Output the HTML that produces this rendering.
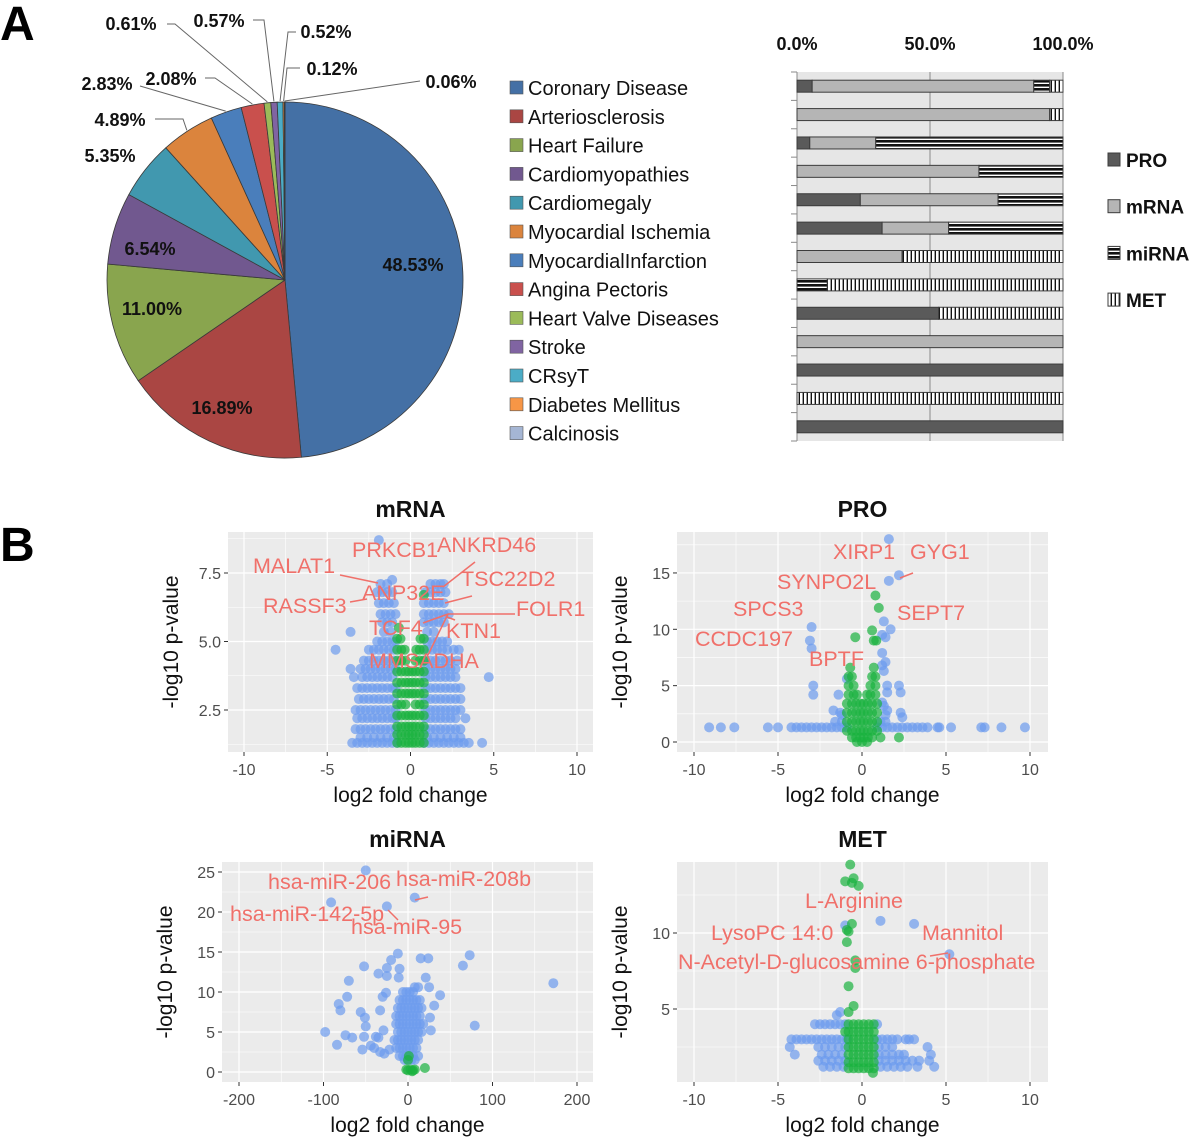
<!DOCTYPE html>
<html><head><meta charset="utf-8"><style>
body{margin:0;background:#fff;}
svg{display:block;font-family:"Liberation Sans",Arial,sans-serif;}
</style></head><body>
<svg id="root" width="1200" height="1139" viewBox="0 0 1200 1139" xmlns="http://www.w3.org/2000/svg">
<defs>
<pattern id="pMi" width="6" height="4" patternUnits="userSpaceOnUse"><rect width="6" height="4" fill="#111"/><rect y="2.6" width="6" height="1.4" fill="#fff"/></pattern>
<pattern id="pMet" width="4" height="6" patternUnits="userSpaceOnUse"><rect width="4" height="6" fill="#fff"/><rect x="2.6" width="1.4" height="6" fill="#111"/></pattern>
</defs>
<text x="0" y="40" font-size="48" font-weight="bold">A</text>
<text x="0" y="561" font-size="48" font-weight="bold">B</text>
<g id="pie"></g>
<g id="pieLegend"></g>
<g id="bars"></g>
<g id="v1"></g>
<g id="v2"></g>
<g id="v3"></g>
<g id="v4"></g>
</svg>
<script>
const NS="http://www.w3.org/2000/svg";
// ---------- Pie data ----------
const pieCategories=["Coronary Disease","Arteriosclerosis","Heart Failure","Cardiomyopathies","Cardiomegaly","Myocardial Ischemia","MyocardialInfarction","Angina Pectoris","Heart Valve Diseases","Stroke","CRsyT","Diabetes Mellitus","Calcinosis"];
const pieValues=[48.53,16.89,11.00,6.54,5.35,4.89,2.83,2.08,0.61,0.57,0.52,0.12,0.06];
const pieColors=["#4470A5","#AA4643","#89A54E","#71588F","#4198AF","#DB843D","#4A7EBB","#C9504D","#9BBB59","#8064A2","#4BACC6","#F79646","#A5B6D4"];
// ---------- Bar data (percent shares per disease) ----------
const barSeries=["PRO","mRNA","miRNA","MET"];
const barPRO  =[5.7,0,4.8,0,23.8,32,0,0,53.3,0,100,0,100];
const barMRNA =[83.3,95,24.8,68.4,51.8,25,39.5,0,0,100,0,0,0];
const barMIRNA=[6,0,70.4,31.6,24.4,43,0,11.4,0,0,0,0,0];
const barMET  =[5,5,0,0,0,0,60.5,88.6,46.7,0,0,100,0];
const barTicks=["0.0%","50.0%","100.0%"];

function el(tag,attrs,parent,text){const e=document.createElementNS(NS,tag);for(const k in attrs)e.setAttribute(k,attrs[k]);if(text!==undefined)e.textContent=text;parent.appendChild(e);return e;}

// ---------- Pie ----------
(function(){
 const g=document.getElementById('pie');const cx=285,cy=280,r=178;
 const total=pieValues.reduce((a,b)=>a+b,0);let a0=0;const mids=[];
 pieValues.forEach((v,i)=>{
  const a1=a0+v/total*2*Math.PI;
  const p=(a)=>[cx+r*Math.sin(a),cy-r*Math.cos(a)];
  const [x0,y0]=p(a0),[x1,y1]=p(a1);
  const s=el('path',{d:`M${cx},${cy}L${x0},${y0}A${r},${r} 0 ${a1-a0>Math.PI?1:0} 1 ${x1},${y1}Z`,fill:pieColors[i],stroke:"#3a3a3a","stroke-width":"0.8"},g);
  
  
  mids.push((a0+a1)/2);a0=a1;
 });
 const lab=[[413,271,null],[222,414,null],[152,315,null],[150,255,null],[110,162,null],[120,126,[155,119,183,119]],[107,90,[140,86]],[171,85,[205,78,215,78]],[131,30,[167,24,175,24]],[219,27,[253,20,264,20]],[326,38,[296,32,288,32]],[332,75,[300,68,287,68]],[451,88,[420,81]]];
 lab.forEach((L,i)=>{
  const t=el('text',{x:L[0],y:L[1],"font-size":"18","font-weight":"bold","text-anchor":"middle",fill:"#111"},g,pieValues[i].toFixed(2)+"%");
  
  
  if(L[2]){const m=mids[i];const ex=cx+(r+1)*Math.sin(m),ey=cy-(r+1)*Math.cos(m);
   const pts=L[2].concat([ex,ey]);
   const pl=el('polyline',{points:pts.join(','),fill:"none",stroke:"#666","stroke-width":"1"},g);
   
   }
 });
 const lg=document.getElementById('pieLegend');
 pieCategories.forEach((c,i)=>{const y=88+i*28.8;
  const sq=el('rect',{x:510,y:y-7,width:13,height:13,fill:pieColors[i],stroke:"#555","stroke-width":"0.6"},lg);
  
  
  const t=el('text',{x:528,y:y+7,"font-size":"20",fill:"#111"},lg,c);
  
  
 });
})();

// ---------- Bars ----------
(function(){
 const g=document.getElementById('bars');const x0=797,w=266,top=72,bot=441;
 const X=v=>x0+v/100*w;
 const bg=el('rect',{x:x0,y:top,width:w,height:bot-top,fill:"#E6E6E6"},g);
 [50,100].forEach(v=>{const l=el('line',{x1:X(v),x2:X(v),y1:top,y2:bot,stroke:"#8a8a8a","stroke-width":"1"},g);});
 const ax=el('line',{x1:x0,x2:x0,y1:top,y2:bot,stroke:"#8a8a8a","stroke-width":"1"},g);
 for(let i=0;i<=13;i++){const y=top+i*(bot-top)/13;const t=el('line',{x1:x0-6,x2:x0,y1:y,y2:y,stroke:"#8a8a8a"},g);}
 barTicks.forEach((s,i)=>{const t=el('text',{x:X(i*50),y:50,"font-size":"18","font-weight":"bold","text-anchor":"middle",fill:"#111"},g,s);});
 const fills=["#5A5A5A","#B5B5B5","url(#pMi)","url(#pMet)"];
 const ser=[barPRO,barMRNA,barMIRNA,barMET];
 for(let i=0;i<13;i++){const yc=top+(i+0.5)*(bot-top)/13;let acc=0;
  ser.forEach((s,k)=>{const v=s[i];if(v<=0)return;
   const r=el('rect',{x:X(acc),y:yc-6,width:X(acc+v)-X(acc),height:12,fill:fills[k],stroke:"#3c3c3c","stroke-width":"1"},g);
   
   
   acc+=v;});
 }
 barSeries.forEach((s,k)=>{const y=160+k*46.7;
  const sq=el('rect',{x:1108,y:y-7,width:12,height:13,fill:fills[k],stroke:"#3c3c3c"},g);
  const t=el('text',{x:1126,y:y+7,"font-size":"19","font-weight":"bold",fill:"#111"},g,s);});
})();

// ---------- Volcano data ----------
const mrnaBlue=["8.7:-1.9","7.25:-1.1","7.1:-1.8,-1.4,1.2,1.5,1.8,2.0","6.8:-2.0,-1.7,-1.4,-1.1,0.9,1.2,1.5,1.8,2.1","6.4:-1.9,-1.6,-1.3,-1.0,0.8,1.1,1.4,1.7,2.0","6.0:-1.8,-1.5,-1.2,-0.9,0.8,1.1,1.4,1.7,2.0,2.3","5.7:-1.7,-1.4,-1.1,0.8,1.1,1.4,1.7,2.0","5.35:-3.6,-1.6,-1.2,1.0,1.4","5.0:-2.0,-1.7,-1.4,-1.1,-0.9,1.0,1.3,1.6,1.9,2.2","4.7:-4.5,-2.5,-2.2,-1.9,-1.6,-1.3,-1.0,1.0,1.3,1.6,1.9,2.2,2.6,2.9","4.3:-2.8,-2.5,-2.2,-1.9,-1.6,-1.3,-1.0,0.9,1.2,1.5,1.8,2.1,2.4,2.8","4.0:-3.6,-3.0,-2.7,-2.4,-2.1,-1.8,-1.5,-1.2,-0.9,0.9,1.2,1.5,1.8,2.1,2.4,2.7","3.7:-3.4,-2.9,-2.6,-2.3,-2.0,-1.7,-1.4,-1.1,0.9,1.2,1.5,1.8,2.1,2.4,2.7,4.7","3.3:-3.2,-2.9,-2.6,-2.3,-2.0,-1.7,-1.4,-1.1,-0.9,0.9,1.2,1.5,1.8,2.1,2.4,2.7,3.0","2.9:-3.1,-2.8,-2.5,-2.2,-1.9,-1.6,-1.3,-1.0,0.9,1.2,1.5,1.8,2.1,2.4,2.7,3.0","2.5:-3.3,-3.0,-2.7,-2.4,-2.1,-1.8,-1.5,-1.2,-0.9,0.9,1.2,1.5,1.8,2.1,2.4,2.7,3.0","2.2:-3.2,-2.9,-2.6,-2.3,-2.0,-1.7,-1.4,-1.1,-0.9,0.9,1.2,1.5,1.8,2.1,2.4,2.7,3.3","1.8:-3.3,-3.0,-2.7,-2.4,-2.1,-1.8,-1.5,-1.2,-0.9,0.9,1.2,1.5,1.8,2.1,2.4,2.7,3.0","1.5:-3.0,-2.6,-2.2,-1.8,-1.4,-1.0,1.0,1.4,1.8,2.2,2.6,3.0","1.3:-3.5,-3.2,-2.9,-2.6,-2.3,-2.0,-1.7,-1.4,-1.1,-0.8,0.8,1.1,1.4,1.7,2.0,2.3,2.6,2.9,3.2,3.5,4.3"];
const mrnaGreen=["6.7:0.8","5.5:-0.7","5.1:-0.8,-0.6,0.6,0.8","4.7:-0.8,-0.55,-0.35,0.35,0.55,0.8","4.3:-0.8,-0.55,-0.3,0.3,0.55,0.8","3.9:-0.8,-0.55,-0.3,-0.1,0.1,0.3,0.55,0.8","3.5:-0.8,-0.55,-0.3,-0.1,0.1,0.3,0.55,0.8","3.1:-0.8,-0.55,-0.3,-0.1,0.1,0.3,0.55,0.8","2.7:-0.8,-0.55,-0.3,0.3,0.55,0.8","2.3:-0.8,-0.55,-0.3,-0.1,0.1,0.3,0.55,0.8","1.9:-0.8,-0.55,-0.3,-0.1,0.1,0.3,0.55,0.8","1.6:-0.8,-0.55,-0.3,-0.1,0.1,0.3,0.55,0.8","1.3:-0.8,-0.55,-0.3,-0.1,0.1,0.3,0.55,0.8"];
const proBlue=["18:1.6","14.8:2.2","14.3:1.6","10.7:1.3","10.2:-3.0","10.0:1.7","9.5:1.2","9.3:1.4","9.0:-3.1","8.3:-3.0","7.9:1.2","7.1:1.4","6.8:1.2","6.3:1.3","5.6:-0.9","5.0:-2.9,1.5,2.2","4.4:1.5,2.3","4.2:-2.9,-1.4","3.5:1.2","3.2:1.3","2.8:-1.7,1.5","2.6:-1.3,2.3","2.4:-1.2,1.4","2.2:2.4","1.8:-1.6,-1.2,1.1,1.4","1.3:-9.1,-8.4,-7.6,-5.6,-5.0,-4.2,-3.9,-3.6,-3.3,-3.0,-2.7,-2.4,-2.1,-1.8,-1.5,-1.2,-0.9,0.9,1.2,1.5,1.8,2.1,2.4,2.7,3.0,3.3,3.6,3.9,4.5,4.6,5.3,7.1,7.3,8.3,9.7"];
const proGreen=["13:0.8","11.9:1.0","9.9:0.6","9.3:-0.4","9.0:0.7,0.85","6.6:-0.7,0.7","5.8:-0.8,-0.6,0.6,0.8","5.0:-0.8,-0.5,0.5,0.8","4.2:-0.8,-0.5,-0.3,0.3,0.5,0.8","3.4:-0.9,-0.6,-0.35,-0.1,0.1,0.35,0.6,0.9","2.6:-0.9,-0.6,-0.35,-0.1,0.1,0.35,0.6,0.9","1.8:-0.9,-0.6,-0.35,-0.1,0.1,0.35,0.6,0.9","1.0:-0.9,-0.6,-0.35,-0.1,0.1,0.35,0.6,0.9","0.4:-0.6,-0.35,-0.1,0.1,0.35,0.6,1.1,2.2","0:-0.3,0,0.3"];
const mirBlue=["25.2:-50","21.8:8","21.2:-91","20.7:-25","14.8:-12","14.6:73","14.2:15,24","14.0:-20","13.3:65","13.2:-52","13.0:-25","12.9:-10","12.3:-35","12.0:-25","11.8:-11,21","11.4:-70","11.1:172","10.6:8,12,25","9.9:-26","9.6:38","9.4:-30,-72","8.5:-82","8.3:31","7.7:-80,-33","7.5:-56","6.8:-51,26","5.8:79","5.7:-50","5.2:-29,27","5.0:-98","4.6:-74","4.4:-52,-38","4.3:-66,-35","3.4:-84","3.3:-44","3.0:-40","2.8:-54,-22","2.5:-33","2.3:-28","10:-6,-2,2,6","9:-10,-6,-2,2,6,10,14","8:-12,-8,-4,0,4,8,12,16","7:-14,-10,-6,-2,2,6,10,14","6:-14,-10,-6,-2,2,6,10,14,18","5:-12,-8,-4,0,4,8,12,16","4:-16,-12,-8,-4,0,4,8,12","3:-14,-10,-6,-2,2,6,10","2:-10,-6,-2,2,6,12","1.5:-4,0,4,8"];
const mirGreen=["2:1","1.5:0","0.5:20","0.3:-2,3,8","0.2:0,6","0.1:5"];
const metBlue=["10.8:1.1","10.6:3.1","10.5:-1.0","8.6:5.2","4.8:-1.3","4.6:-1.5","4.0:-2.8,-2.5,-2.2,-1.9,-1.6,-1.3,-1.0,0.9","3.0:-4.2,-3.9,-3.6,-3.3,-3.0,-2.7,-2.4,-2.1,-1.8,-1.5,-1.2,-0.9,0.9,1.2,1.5,1.8,2.1,2.6,2.8,3.1","2.5:-4.3,-2.6,-2.2,-1.8,-1.4,-1.0,1.0,1.4,1.8,3.9","2.0:-4.0,-2.4,-2.0,-1.6,-1.2,1.0,1.4,1.8,2.2,2.5,4.1","1.6:-2.6,-2.2,-1.8,-1.4,-1.0,1.0,1.4,1.8,2.2,2.6,3.0,3.4,4.0","1.2:-2.3,-1.9,-1.5,-1.1,1.1,1.5,1.9,2.3,2.7,3.3,4.3"];
const metGreen=["14.5:-0.7","13.6:-0.5","13.4:-1.0","13.3:-0.6","13.1:-0.2","10.6:-0.6","10.2:-0.9","10.1:-0.8","9.4:-0.9","8.2:-0.4","7.7:-0.4","6.5:-0.8","5.2:-0.5","4.8:-0.8","4.0:-0.8,-0.5,-0.2,0.1,0.4,0.7","3.5:-1.0,-0.8,-0.5,-0.2,0.1,0.4,0.7","3.0:-0.8,-0.5,-0.2,0.1,0.4,0.7","2.5:-0.8,-0.5,-0.2,0.1,0.4,0.7","2.0:-0.8,-0.5,-0.2,0.1,0.4,0.7","1.5:-0.8,-0.5,-0.2,0.1,0.4,0.7","1.1:-0.8,-0.5,-0.2,0.1,0.4,0.7","0.8:0.65"];
const xTicks10=[-10,-5,0,5,10];
const xTicks200=[-200,-100,0,100,200];

function parseRows(rows){const out=[];rows.forEach(r=>{const [y,xs]=r.split(':');xs.split(',').forEach(x=>out.push([+x,+y]));});return out;}

function volcano(id,c){
 const g=document.getElementById(id);
 const X=v=>c.x0px+(v)*c.xs, Y=v=>c.y0px-(v)*c.ys;
 const bg=el('rect',{x:c.L,y:c.T,width:c.R-c.L,height:c.B-c.T,fill:"#EBEBEB"},g);
 c.xminor.forEach(v=>{const l=el('line',{x1:X(v),x2:X(v),y1:c.T,y2:c.B,stroke:"#fff","stroke-width":"0.6"},g);});
 c.yminor.forEach(v=>{const l=el('line',{x1:c.L,x2:c.R,y1:Y(v),y2:Y(v),stroke:"#fff","stroke-width":"0.6"},g);});
 c.xt.forEach(v=>{const l=el('line',{x1:X(v),x2:X(v),y1:c.T,y2:c.B,stroke:"#fff","stroke-width":"1.2"},g);
  const tk=el('line',{x1:X(v),x2:X(v),y1:c.B,y2:c.B+4,stroke:"#333"},g);
  const t=el('text',{x:X(v),y:c.B+23,"font-size":"16","text-anchor":"middle",fill:"#4D4D4D"},g,String(v));});
 c.yt.forEach(v=>{const l=el('line',{x1:c.L,x2:c.R,y1:Y(v),y2:Y(v),stroke:"#fff","stroke-width":"1.2"},g);
  const tk=el('line',{x1:c.L-4,x2:c.L,y1:Y(v),y2:Y(v),stroke:"#333"},g);
  const t=el('text',{x:c.L-7,y:Y(v)+6,"font-size":"16","text-anchor":"end",fill:"#4D4D4D"},g,c.yfmt(v));});
 [[c.blue,"#6C9BEE","point-blue"],[c.green,"#19B23E","point-green"]].forEach(([rows,col,nm])=>{
  parseRows(rows).forEach(([x,y])=>{const p=el('circle',{cx:X(x),cy:Y(y),r:5,fill:col,"fill-opacity":"0.7"},g);
   
   });});
 c.lines.forEach(l=>{const ln=el('line',{x1:l[0],y1:l[1],x2:l[2],y2:l[3],stroke:"#F0706A","stroke-width":"1.5"},g);});
 c.labels.forEach(l=>{const t=el('text',{x:l[1],y:l[2]+8,"font-size":"21.5",fill:"#F0706A"},g,l[0]);});
 const cxp=(c.L+c.R)/2;
 const ti=el('text',{x:cxp,y:c.T-15,"font-size":"23","font-weight":"bold","text-anchor":"middle",fill:"#111"},g,c.title);
 const xl=el('text',{x:cxp,y:c.B+50,"font-size":"21","text-anchor":"middle",fill:"#111"},g,"log2 fold change");
 const yl=el('text',{x:0,y:0,"font-size":"21","text-anchor":"middle",fill:"#111",transform:`translate(${c.L-50},${(c.T+c.B)/2}) rotate(-90)`},g,"-log10 p-value");
}
volcano('v1',{title:"mRNA",L:228,R:593,T:532,B:752,x0px:410.5,xs:16.65,y0px:778.5,ys:27.4,xt:xTicks10,xminor:[-7.5,-2.5,2.5,7.5],yt:[2.5,5,7.5],yminor:[1.25,3.75,6.25,8.75],yfmt:v=>v.toFixed(1),blue:mrnaBlue,green:mrnaGreen,
 labels:[["MALAT1",253,565],["PRKCB1",352,549],["ANKRD46",437,544],["TSC22D2",461,578],["ANP32E",362,592],["RASSF3",263,605],["FOLR1",516,608],["TCF4",369,627],["KTN1",446,630],["MMSADHA",369,660]],
 lines:[[340,575,378,583],[475,562,443,587],[472,596,445,603],[515,614,448,614],[448,614,428,655],[448,614,423,623],[455,620,447,617],[350,602,367,599]]});
volcano('v2',{title:"PRO",L:677,R:1048,T:532,B:752,x0px:862,xs:16.8,y0px:742,ys:11.27,xt:xTicks10,xminor:[-7.5,-2.5,2.5,7.5],yt:[0,5,10,15],yminor:[2.5,7.5,12.5,17.5],yfmt:v=>String(v),blue:proBlue,green:proGreen,
 labels:[["XIRP1",833,551],["GYG1",910,551],["SYNPO2L",777,581],["SPCS3",733,608],["SEPT7",897,612],["CCDC197",695,638],["BPTF",809,658]],
 lines:[[913,573,900,578]]});
volcano('v3',{title:"miRNA",L:222,R:593,T:862,B:1082,x0px:408,xs:0.845,y0px:1072,ys:8,xt:xTicks200,xminor:[-150,-50,50,150],yt:[0,5,10,15,20,25],yminor:[2.5,7.5,12.5,17.5,22.5],yfmt:v=>String(v),blue:mirBlue,green:mirGreen,
 labels:[["hsa-miR-206",268,881],["hsa-miR-208b",396,878],["hsa-miR-142-5p",230,913],["hsa-miR-95",351,926]],
 lines:[[428,897,415,900],[398,920,388,910]]});
volcano('v4',{title:"MET",L:677,R:1048,T:862,B:1082,x0px:862,xs:16.8,y0px:1085,ys:15.2,xt:xTicks10,xminor:[-7.5,-2.5,2.5,7.5],yt:[5,10],yminor:[2.5,7.5,12.5],yfmt:v=>String(v),blue:metBlue,green:metGreen,
 labels:[["L-Arginine",805,900],["LysoPC 14:0",711,932],["Mannitol",922,932],["N-Acetyl-D-glucosamine 6-phosphate",678,961]],
 lines:[[930,956,948,953]]});
</script>
</body></html>
